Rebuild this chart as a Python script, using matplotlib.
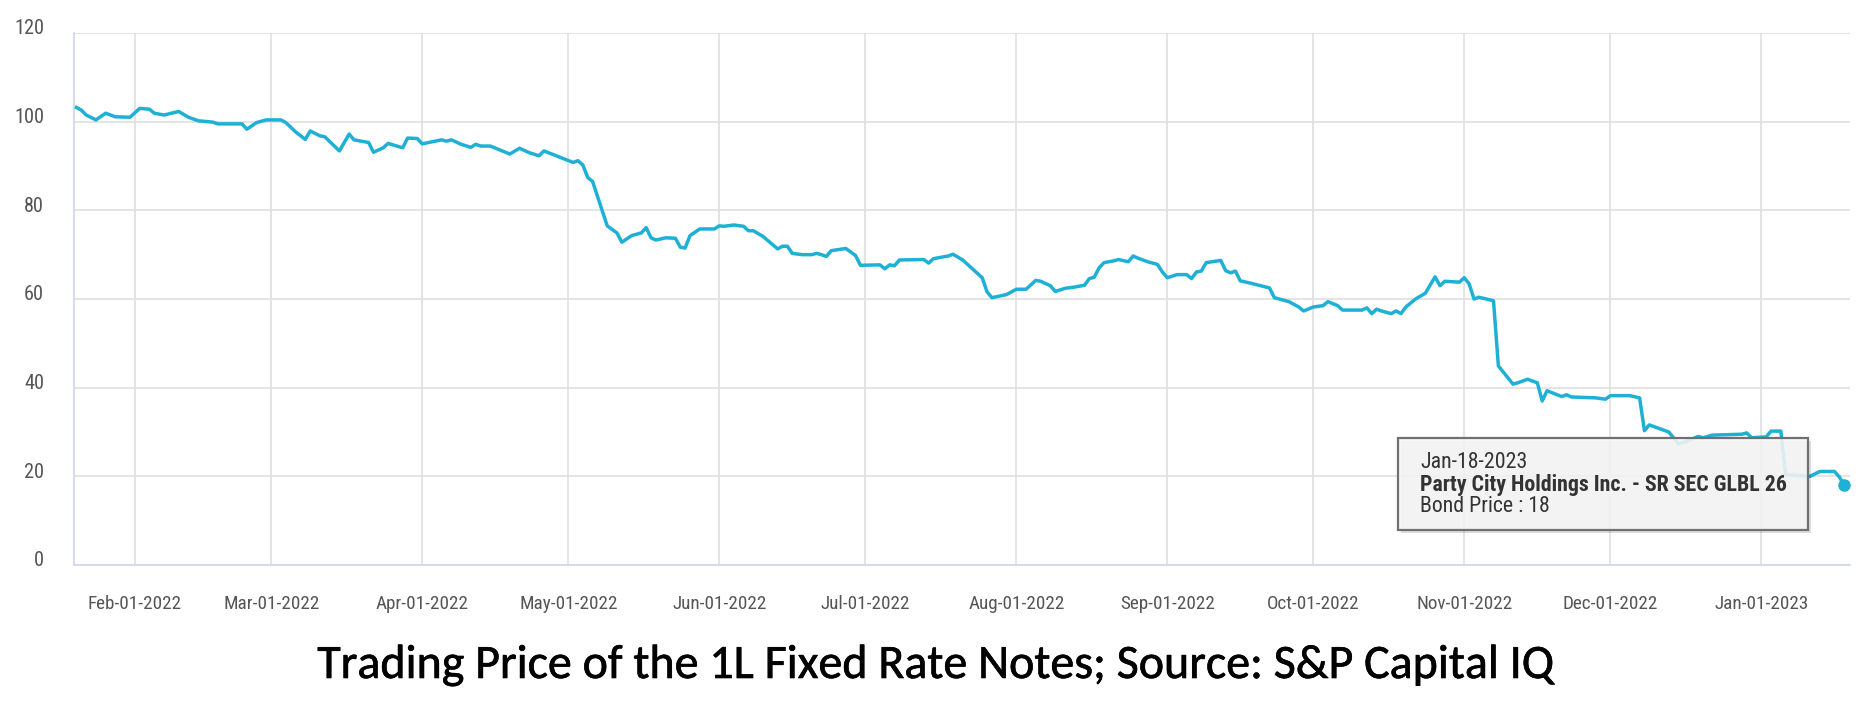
import matplotlib
matplotlib.use("Agg")
import matplotlib.pyplot as plt
import matplotlib.dates as mdates
import matplotlib.transforms as mtransforms
import matplotlib.patheffects as pe
from matplotlib.patches import Rectangle
import pandas as pd

# ---------------- data ----------------
dates = [
    "2022-01-20", "2022-01-21", "2022-01-22", "2022-01-24", "2022-01-26", "2022-01-28", "2022-01-31",
    "2022-02-02", "2022-02-04", "2022-02-05", "2022-02-07", "2022-02-10", "2022-02-12", "2022-02-14",
    "2022-02-17", "2022-02-18", "2022-02-23", "2022-02-24", "2022-02-26", "2022-02-28",
    "2022-03-03", "2022-03-04", "2022-03-06", "2022-03-08", "2022-03-09", "2022-03-11", "2022-03-12",
    "2022-03-15", "2022-03-17", "2022-03-18", "2022-03-21", "2022-03-22", "2022-03-24", "2022-03-25",
    "2022-03-28", "2022-03-29", "2022-03-31",
    "2022-04-01", "2022-04-05", "2022-04-06", "2022-04-07", "2022-04-09", "2022-04-11", "2022-04-12",
    "2022-04-13", "2022-04-15", "2022-04-19", "2022-04-21", "2022-04-23", "2022-04-25", "2022-04-26",
    "2022-05-02", "2022-05-03", "2022-05-04", "2022-05-05", "2022-05-06", "2022-05-09", "2022-05-11",
    "2022-05-12", "2022-05-14", "2022-05-16", "2022-05-17", "2022-05-18", "2022-05-19", "2022-05-21",
    "2022-05-23", "2022-05-24", "2022-05-25", "2022-05-26", "2022-05-28", "2022-05-31",
    "2022-06-01", "2022-06-02", "2022-06-04", "2022-06-06", "2022-06-07", "2022-06-08", "2022-06-10",
    "2022-06-13", "2022-06-14", "2022-06-15", "2022-06-16", "2022-06-18", "2022-06-20", "2022-06-21",
    "2022-06-22", "2022-06-23", "2022-06-24", "2022-06-27", "2022-06-29", "2022-06-30",
    "2022-07-04", "2022-07-05", "2022-07-06", "2022-07-07", "2022-07-08", "2022-07-13", "2022-07-14",
    "2022-07-15", "2022-07-18", "2022-07-19", "2022-07-21", "2022-07-23", "2022-07-25", "2022-07-26",
    "2022-07-27", "2022-07-30",
    "2022-08-01", "2022-08-03", "2022-08-05", "2022-08-06", "2022-08-08", "2022-08-09", "2022-08-11",
    "2022-08-13", "2022-08-15", "2022-08-16", "2022-08-17", "2022-08-18", "2022-08-19", "2022-08-21",
    "2022-08-22", "2022-08-24", "2022-08-25", "2022-08-26", "2022-08-28", "2022-08-30", "2022-08-31",
    "2022-09-01", "2022-09-03", "2022-09-05", "2022-09-06", "2022-09-07", "2022-09-08", "2022-09-09",
    "2022-09-12", "2022-09-13", "2022-09-14", "2022-09-15", "2022-09-16", "2022-09-18", "2022-09-22",
    "2022-09-23", "2022-09-26", "2022-09-28", "2022-09-29",
    "2022-10-01", "2022-10-03", "2022-10-04", "2022-10-06", "2022-10-07", "2022-10-11", "2022-10-12",
    "2022-10-13", "2022-10-14", "2022-10-15", "2022-10-17", "2022-10-18", "2022-10-19", "2022-10-20",
    "2022-10-22", "2022-10-24", "2022-10-26", "2022-10-27", "2022-10-28", "2022-10-31",
    "2022-11-01", "2022-11-02", "2022-11-03", "2022-11-04", "2022-11-07", "2022-11-08", "2022-11-11",
    "2022-11-12", "2022-11-14", "2022-11-16", "2022-11-17", "2022-11-18", "2022-11-21", "2022-11-22",
    "2022-11-23", "2022-11-28", "2022-11-30",
    "2022-12-01", "2022-12-05", "2022-12-07", "2022-12-08", "2022-12-09", "2022-12-13", "2022-12-15",
    "2022-12-17", "2022-12-19", "2022-12-20", "2022-12-22", "2022-12-28", "2022-12-29", "2022-12-30",
    "2023-01-02", "2023-01-03", "2023-01-05", "2023-01-06", "2023-01-11", "2023-01-13", "2023-01-16",
    "2023-01-17", "2023-01-18",
]
prices = [
    103.2, 102.6, 101.5, 100.4, 101.9, 101.1, 101.0,
    103.0, 102.8, 101.9, 101.5, 102.3, 101.0, 100.2,
    99.9, 99.5, 99.5, 98.3, 99.8, 100.4,
    100.4, 99.8, 97.7, 96.0, 97.9, 96.8, 96.6,
    93.4, 97.2, 95.9, 95.3, 93.1, 94.1, 95.1,
    94.1, 96.3, 96.2,
    95.0, 95.9, 95.6, 95.9, 94.9, 94.2, 94.9,
    94.5, 94.5, 92.7, 94.0, 93.0, 92.3, 93.4,
    90.8, 91.2, 90.2, 87.4, 86.5, 76.5, 74.9,
    72.8, 74.3, 74.9, 76.1, 73.8, 73.3, 73.8,
    73.7, 71.7, 71.5, 74.3, 75.8, 75.8,
    76.5, 76.4, 76.7, 76.4, 75.4, 75.4, 74.1,
    71.3, 71.9, 71.9, 70.3, 70.0, 70.0, 70.3,
    70.0, 69.6, 70.9, 71.4, 69.8, 67.6,
    67.7, 66.8, 67.7, 67.5, 68.8, 68.9, 68.1,
    69.1, 69.7, 70.1, 68.8, 66.8, 64.8, 61.6,
    60.3, 61.0,
    62.2, 62.2, 64.2, 64.0, 63.0, 61.7, 62.4,
    62.7, 63.1, 64.6, 64.9, 67.0, 68.2, 68.6,
    68.9, 68.4, 69.7, 69.2, 68.4, 67.8, 66.1,
    64.8, 65.5, 65.5, 64.6, 66.1, 66.3, 68.2,
    68.7, 66.4, 65.9, 66.3, 64.1, 63.6, 62.5,
    60.3, 59.4, 58.2, 57.3,
    58.2, 58.5, 59.4, 58.5, 57.5, 57.5, 58.0,
    56.7, 57.7, 57.3, 56.7, 57.3, 56.7, 58.2,
    60.0, 61.3, 65.0, 63.0, 64.0, 63.8,
    64.8, 63.4, 60.0, 60.4, 59.6, 44.9, 40.8,
    41.1, 41.9, 41.1, 37.0, 39.3, 38.0, 38.4,
    37.9, 37.7, 37.4,
    38.2, 38.2, 37.7, 30.3, 31.6, 30.0, 27.3,
    28.0, 29.0, 28.7, 29.3, 29.5, 29.8, 28.7,
    28.9, 30.2, 30.2, 20.4, 20.0, 21.1, 21.1,
    19.9, 18.0,
]
month_ticks = ["2022-02-01", "2022-03-01", "2022-04-01", "2022-05-01", "2022-06-01", "2022-07-01",
               "2022-08-01", "2022-09-01", "2022-10-01", "2022-11-01", "2022-12-01", "2023-01-01"]
month_labels = ["Feb-01-2022", "Mar-01-2022", "Apr-01-2022", "May-01-2022", "Jun-01-2022", "Jul-01-2022",
                "Aug-01-2022", "Sep-01-2022", "Oct-01-2022", "Nov-01-2022", "Dec-01-2022", "Jan-01-2023"]
y_ticks = [0, 20, 40, 60, 80, 100, 120]
title_text = "Trading Price of the 1L Fixed Rate Notes; Source: S&P Capital IQ"
tip_date = "Jan-18-2023"
tip_name = "Party City Holdings Inc. - SR SEC GLBL 26"
tip_value = "Bond Price : 18"

# ---------------- figure ----------------
W, H = 1864, 710
DPI = 100
fig = plt.figure(figsize=(W / DPI, H / DPI), dpi=DPI)
fig.patch.set_facecolor("white")

ax_left, ax_right, ax_top, ax_bottom = 74, 1850, 33, 565
ax = fig.add_axes([ax_left / W, (H - ax_bottom) / H, (ax_right - ax_left) / W, (ax_bottom - ax_top) / H])

renderer = fig.canvas.get_renderer()


def fit_size(s, target_px, **kw):
    base = 20.0
    t = fig.text(0, 0, s, fontsize=base, **kw)
    w = t.get_window_extent(renderer).width
    t.remove()
    return base * target_px / w


TICK_FONT = "Roboto Condensed"
line_color = "#1fb0d6"
label_color = "#555555"
grid_color = "#dfdfdf"
axis_color = "#ccd6eb"

x = pd.to_datetime(dates)
ax.plot(x, prices, color=line_color, lw=2.5, solid_joinstyle="round", zorder=3)
ax.plot(x[-1:], prices[-1:], "o", color=line_color, ms=8, zorder=4, clip_on=False)

ax.set_ylim(0, 120)
ax.set_xlim(mdates.date2num(pd.Timestamp("2022-01-19 12:00")),
            mdates.date2num(pd.Timestamp("2023-01-19 05:00")))

ax.set_yticks(y_ticks)
ax.set_xticks(pd.to_datetime(month_ticks))
ax.set_xticklabels(month_labels)

xsize = fit_size("Feb-01-2022", 94, family=TICK_FONT)
ysize = fit_size("120", 30, family=TICK_FONT)

ax.tick_params(axis="x", length=0, pad=21.5, labelsize=xsize, labelcolor=label_color)
ax.tick_params(axis="y", length=0, pad=21.5, labelsize=ysize, labelcolor=label_color)
for lab in ax.get_xticklabels() + ax.get_yticklabels():
    lab.set_fontfamily(TICK_FONT)
offset = mtransforms.ScaledTranslation(0, 6 / DPI, fig.dpi_scale_trans)
for lab in ax.get_yticklabels():
    lab.set_transform(lab.get_transform() + offset)

ax.grid(True, color=grid_color, lw=1.2)
ax.set_axisbelow(True)
for side in ("top", "right"):
    ax.spines[side].set_visible(False)
for side in ("left", "bottom"):
    ax.spines[side].set_color(axis_color)
    ax.spines[side].set_linewidth(1.2)

# ---------------- tooltip ----------------
bx0, bx1, by0, by1 = 1398, 1808, 438, 530
shadow = Rectangle(((bx0 + 3) / W, (H - by1 - 3) / H), (bx1 - bx0) / W, (by1 - by0) / H,
                   transform=fig.transFigure, facecolor="black", alpha=0.13, lw=0, zorder=5)
fig.add_artist(shadow)
box = Rectangle((bx0 / W, (H - by1) / H), (bx1 - bx0) / W, (by1 - by0) / H,
                transform=fig.transFigure, facecolor=(0.97, 0.97, 0.97, 0.88),
                edgecolor="#707070", lw=1.6, zorder=6)
fig.add_artist(box)

tip_font = "Roboto Condensed"
tsize = fit_size(tip_name, 368, family=tip_font, fontweight="bold")
fig.text(1420 / W, (H - 463) / H, tip_date, family=tip_font, fontsize=tsize, color="#333333",
         va="center", ha="left", zorder=7)
fig.text(1420 / W, (H - 485) / H, tip_name, family=tip_font, fontsize=tsize, fontweight="bold",
         color="#333333", va="center", ha="left", zorder=7)
fig.text(1420 / W, (H - 506) / H, tip_value, family=tip_font, fontsize=tsize, color="#333333",
         va="center", ha="left", zorder=7)

# ---------------- caption ----------------
title_font = "Carlito"
tsz = fit_size(title_text, 1236, family=title_font)
fig.text(936.5 / W, (H - 678) / H, title_text, family=title_font, fontsize=tsz, color="black",
         ha="center", va="baseline",
         path_effects=[pe.withStroke(linewidth=0.45, foreground="black")])

fig.savefig("out.png", dpi=DPI, facecolor="white")
